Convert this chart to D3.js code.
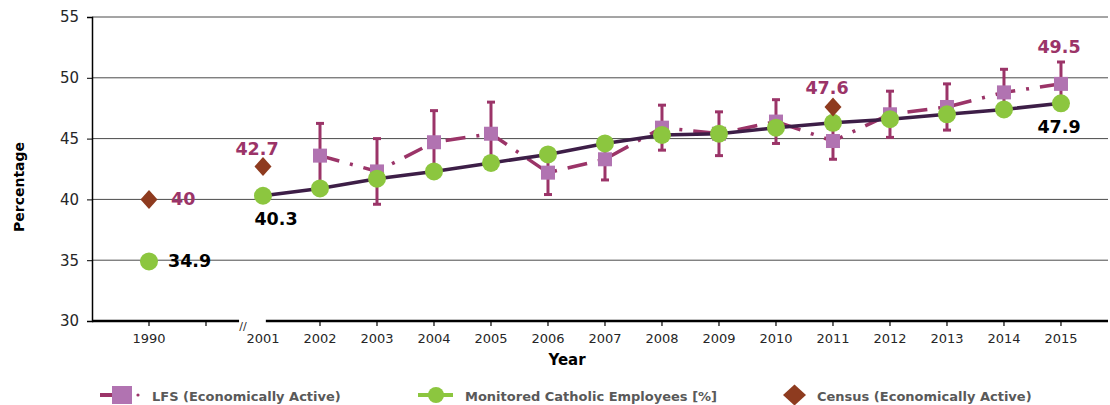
<!DOCTYPE html>
<html>
<head>
<meta charset="utf-8">
<script src="https://cdn.jsdelivr.net/npm/d3@7"></script>
<style>
  body { margin: 0; background: #fff; }
  text { font-family: "DejaVu Sans", sans-serif; }
</style>
</head>
<body>
<div id="chart"></div>
<script>
// tick labels along the x axis (blank slot marks the 1990 / 2001 break)
var years = ["1990", "", "2001", "2002", "2003", "2004", "2005", "2006", "2007",
  "2008", "2009", "2010", "2011", "2012", "2013", "2014", "2015"];
// Monitored Catholic Employees [%]
var catholic = [34.9, null, 40.3, 40.9, 41.7, 42.3, 43.0, 43.7, 44.6,
  45.3, 45.4, 45.9, 46.3, 46.6, 47.0, 47.4, 47.9];
// LFS (Economically Active) and its error margin
var lfs = [null, null, null, 43.6, 42.3, 44.7, 45.4, 42.2, 43.3,
  45.9, 45.4, 46.4, 44.8, 47.0, 47.6, 48.8, 49.5];
var lfsErr = [null, null, null, 2.65, 2.7, 2.6, 2.6, 1.8, 1.7,
  1.85, 1.8, 1.8, 1.5, 1.9, 1.9, 1.9, 1.8];
// Census (Economically Active)
var census = [40, null, 42.7, null, null, null, null, null, null,
  null, null, null, 47.6, null, null, null, null];
var yTicks = [30, 35, 40, 45, 50, 55];

var width = 1110, height = 405;
var margin = { top: 17, right: 2, bottom: 84, left: 92 };

var svg = d3.select("#chart").append("svg")
  .attr("width", width)
  .attr("height", height);

// category slot i sits at x(i + 1)
var x = d3.scaleLinear()
  .domain([0, 17.825])
  .range([margin.left, width - margin.right]);
var y = d3.scaleLinear()
  .domain([30, 55])
  .range([height - margin.bottom, margin.top]);

var pts = function(arr) {
  return arr.map(function(v, i) { return { i: i + 1, v: v, e: lfsErr[i] }; });
};

// gridlines
svg.append("g")
  .selectAll("line")
  .data(yTicks.slice(1))
  .join("line")
  .attr("x1", margin.left)
  .attr("x2", width - margin.right)
  .attr("y1", function(d) { return y(d); })
  .attr("y2", function(d) { return y(d); })
  .attr("stroke", "#4a4a4a")
  .attr("stroke-width", 1);

// y axis
var yAxis = d3.axisLeft(y).tickValues(yTicks).tickSize(5).tickPadding(8);
var gy = svg.append("g")
  .attr("transform", "translate(" + margin.left + ",0)")
  .call(yAxis);
gy.select(".domain").attr("stroke", "#000").attr("stroke-width", 1.5);
gy.selectAll(".tick line").attr("stroke", "#000");
gy.selectAll(".tick text")
  .attr("font-family", "DejaVu Sans")
  .attr("font-size", 15)
  .attr("fill", "#262626");

// x axis, broken between 1990 and 2001
var x0 = y(30);
var gx = svg.append("g");
gx.append("line")
  .attr("x1", margin.left).attr("x2", x(2.58))
  .attr("y1", x0).attr("y2", x0)
  .attr("stroke", "#000").attr("stroke-width", 2.5);
gx.append("line")
  .attr("x1", x(3.05)).attr("x2", width - margin.right)
  .attr("y1", x0).attr("y2", x0)
  .attr("stroke", "#000").attr("stroke-width", 2.5);
gx.selectAll(".xt")
  .data(years.map(function(d, i) { return { label: d, i: i + 1 }; })
    .filter(function(d) { return d.label !== "2001"; }))
  .join("line")
  .attr("class", "xt")
  .attr("x1", function(d) { return x(d.i); })
  .attr("x2", function(d) { return x(d.i); })
  .attr("y1", x0).attr("y2", x0 + 5)
  .attr("stroke", "#000").attr("stroke-width", 1.2);
gx.selectAll(".xl")
  .data(years.map(function(d, i) { return { label: d, i: i + 1 }; }))
  .join("text")
  .attr("class", "xl")
  .attr("x", function(d) { return x(d.i); })
  .attr("y", x0 + 22)
  .attr("text-anchor", "middle")
  .attr("font-size", 13)
  .attr("fill", "#262626")
  .text(function(d) { return d.label; });
gx.append("text")
  .attr("x", x(2.65))
  .attr("y", x0 + 9)
  .attr("text-anchor", "middle")
  .attr("font-size", 11)
  .attr("fill", "#262626")
  .text("//");

// axis titles
svg.append("text")
  .attr("x", 567)
  .attr("y", 365)
  .attr("text-anchor", "middle")
  .attr("font-size", 15)
  .attr("font-weight", "bold")
  .attr("fill", "#000")
  .text("Year");
svg.append("text")
  .attr("transform", "translate(24,187) rotate(-90)")
  .attr("text-anchor", "middle")
  .attr("font-size", 14)
  .attr("font-weight", "bold")
  .attr("fill", "#000")
  .text("Percentage");

var magenta = "#9b3468", pink = "#b173b1", green = "#8cc63f",
  plum = "#3d1e47", brown = "#8e3b1f";

// LFS error bars
var lfsPts = pts(lfs).filter(function(d) { return d.v != null; });
var eb = svg.append("g").selectAll("g").data(lfsPts).join("g");
eb.append("line")
  .attr("x1", function(d) { return x(d.i); })
  .attr("x2", function(d) { return x(d.i); })
  .attr("y1", function(d) { return y(d.v + d.e); })
  .attr("y2", function(d) { return y(d.v - d.e); })
  .attr("stroke", magenta).attr("stroke-width", 3);
[1, -1].forEach(function(s) {
  eb.append("line")
    .attr("x1", function(d) { return x(d.i) - 4; })
    .attr("x2", function(d) { return x(d.i) + 4; })
    .attr("y1", function(d) { return y(d.v + s * d.e); })
    .attr("y2", function(d) { return y(d.v + s * d.e); })
    .attr("stroke", magenta).attr("stroke-width", 3);
});

var line = d3.line()
  .defined(function(d) { return d.v != null; })
  .x(function(d) { return x(d.i); })
  .y(function(d) { return y(d.v); });

// LFS line and squares
svg.append("path")
  .datum(pts(lfs))
  .attr("d", line)
  .attr("fill", "none")
  .attr("stroke", magenta)
  .attr("stroke-width", 3.5)
  .attr("stroke-dasharray", "20,11,3,11");
svg.append("g").selectAll("rect")
  .data(lfsPts)
  .join("rect")
  .attr("x", function(d) { return x(d.i) - 7; })
  .attr("y", function(d) { return y(d.v) - 7; })
  .attr("width", 14).attr("height", 14)
  .attr("fill", pink);

// Catholic employees line and circles
svg.append("path")
  .datum(pts(catholic))
  .attr("d", line)
  .attr("fill", "none")
  .attr("stroke", plum)
  .attr("stroke-width", 3.5);
svg.append("g").selectAll("circle")
  .data(pts(catholic).filter(function(d) { return d.v != null; }))
  .join("circle")
  .attr("cx", function(d) { return x(d.i); })
  .attr("cy", function(d) { return y(d.v); })
  .attr("r", 9)
  .attr("fill", green);

// census diamonds
svg.append("g").selectAll("path")
  .data(pts(census).filter(function(d) { return d.v != null; }))
  .join("path")
  .attr("transform", function(d) { return "translate(" + x(d.i) + "," + y(d.v) + ")"; })
  .attr("d", "M0,-9.5L8.5,0L0,9.5L-8.5,0Z")
  .attr("fill", brown);

// value labels
var labels = [
  { i: 1, v: census[0], dx: 22, dy: 0, anchor: "start", color: magenta },
  { i: 1, v: catholic[0], dx: 19, dy: 0, anchor: "start", color: "#000" },
  { i: 3, v: catholic[2], dx: 13, dy: 23, anchor: "middle", color: "#000" },
  { i: 3, v: census[2], dx: -6, dy: -18, anchor: "middle", color: magenta },
  { i: 13, v: census[12], dx: -6, dy: -19, anchor: "middle", color: magenta },
  { i: 17, v: lfs[16], dx: -2, dy: -37, anchor: "middle", color: magenta },
  { i: 17, v: catholic[16], dx: -2, dy: 24, anchor: "middle", color: "#000" }
];
svg.append("g").selectAll("text")
  .data(labels)
  .join("text")
  .attr("x", function(d) { return x(d.i) + d.dx; })
  .attr("y", function(d) { return y(d.v) + d.dy; })
  .attr("dominant-baseline", "central")
  .attr("text-anchor", function(d) { return d.anchor; })
  .attr("font-size", 17.5)
  .attr("font-weight", "bold")
  .attr("fill", function(d) { return d.color; })
  .text(function(d) { return d.v; });

// legend
var legendNames = ["LFS (Economically Active)", "Monitored Catholic Employees [%]",
  "Census (Economically Active)"];
var ly = 395;
var lg = svg.append("g");
lg.append("line").attr("x1", 100).attr("x2", 113).attr("y1", ly).attr("y2", ly)
  .attr("stroke", magenta).attr("stroke-width", 4);
lg.append("rect").attr("x", 112).attr("y", ly - 9).attr("width", 20).attr("height", 18)
  .attr("fill", pink);
lg.append("circle").attr("cx", 138).attr("cy", ly).attr("r", 1.6).attr("fill", magenta);
lg.append("line").attr("x1", 418).attr("x2", 453).attr("y1", ly).attr("y2", ly)
  .attr("stroke", green).attr("stroke-width", 4);
lg.append("circle").attr("cx", 436).attr("cy", ly).attr("r", 8).attr("fill", green);
lg.append("path").attr("transform", "translate(794.5," + ly + ")")
  .attr("d", "M0,-10.5L11.5,0L0,10.5L-11.5,0Z").attr("fill", brown);
lg.selectAll("text")
  .data(legendNames)
  .join("text")
  .attr("x", function(d, i) { return [152, 465, 817][i]; })
  .attr("y", ly + 6)
  .attr("font-size", 13)
  .attr("font-weight", "bold")
  .attr("fill", "#595959")
  .text(function(d) { return d; });
</script>
</body>
</html>
